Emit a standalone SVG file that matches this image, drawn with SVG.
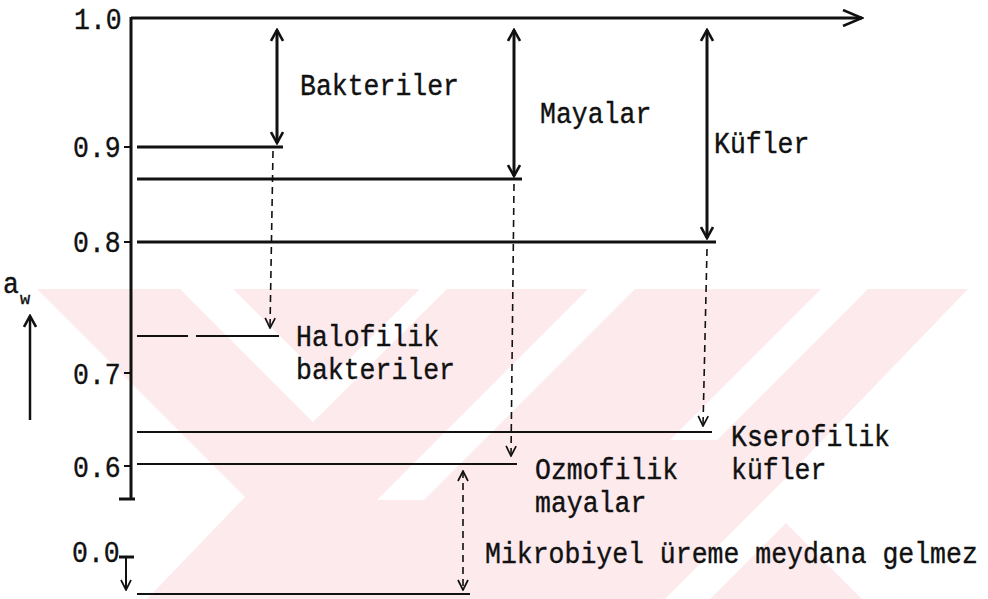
<svg xmlns="http://www.w3.org/2000/svg" width="988" height="599" viewBox="0 0 988 599">
<style>
.t{font-family:"Liberation Mono","DejaVu Sans Mono",monospace;font-size:26.5px;fill:#111;stroke:#111;stroke-width:0.35}
.ln{stroke:#111;fill:none;stroke-linecap:butt}
.thick{stroke-width:3}
.thin{stroke-width:2}
.dash{stroke-width:1.6;stroke-dasharray:7 5}
.wm{fill:#fdeaed}
.wh{fill:#fff}
</style>
<defs>
<marker id="ah" viewBox="0 0 14 14" refX="12" refY="7" markerWidth="14" markerHeight="14" markerUnits="userSpaceOnUse" orient="auto-start-reverse"><path d="M1,1 L12,7 L1,13" fill="none" stroke="#111" stroke-width="2.6"/></marker>
<marker id="ahs" viewBox="0 0 12 12" refX="11" refY="6" markerWidth="12" markerHeight="12" markerUnits="userSpaceOnUse" orient="auto-start-reverse"><path d="M1,1 L11,6 L1,11" fill="none" stroke="#111" stroke-width="1.7"/></marker>
<marker id="ahx" viewBox="0 0 22 18" refX="20" refY="9" markerWidth="22" markerHeight="18" markerUnits="userSpaceOnUse" orient="auto"><path d="M1,1 L20,9 L1,17" fill="none" stroke="#111" stroke-width="2.6"/></marker>
</defs>
<rect width="988" height="599" fill="#fff"/>
<g id="watermark">
<rect class="wm" x="0" y="289" width="988" height="310"/>
<polygon class="wh" points="0,289 37,289 245,497 147,599 0,599"/>
<polygon class="wh" points="180,289 313,422 447,289 420,289 326,382 233,289"/>
<polygon class="wh" points="588,289 635,289 424,500 377,500"/>
<polygon class="wh" points="821,289 868,289 717,440 670,440"/>
<polygon class="wh" points="968,289 988,289 988,599 907,599 786,478"/>
<polygon class="wh" points="786,478 907,599 862,599 786,523 710,599 665,599"/>
</g>
<g id="axes">
<path class="ln thick" d="M131,17 L131,500"/>
<path class="ln thick" d="M119,499 L135,499"/>
<path class="ln thick" d="M131,18 L862,18" marker-end="url(#ahx)"/>
<path class="ln thin" d="M124,147 L131,147 M124,242 L131,242 M124,373 L131,373 M124,466 L131,466"/>
<path class="ln thick" d="M119,557 L134,557"/>
<path class="ln thin" d="M126,557 L126,590" marker-end="url(#ahs)"/>
<path class="ln" stroke-width="2.5" d="M30,420 L30,316" marker-end="url(#ah)"/>
</g>
<g id="levels">
<path class="ln thick" d="M137,147 L283,147"/>
<path class="ln thick" d="M137,179 L522,179"/>
<path class="ln thick" d="M137,242 L716,242"/>
<path class="ln" stroke-width="1.8" d="M137,336 L188,336 M196,336 L279,336"/>
<path class="ln thin" d="M137,432 L712,432"/>
<path class="ln" stroke-width="2.2" d="M137,464 L517,464"/>
<path class="ln thin" d="M137,594 L470,594"/>
</g>
<g id="connectors">
<path class="ln thick" d="M277,30 L277,143" marker-start="url(#ah)" marker-end="url(#ah)"/>
<path class="ln thick" d="M514,30 L514,176" marker-start="url(#ah)" marker-end="url(#ah)"/>
<path class="ln thick" d="M707,30 L707,238" marker-start="url(#ah)" marker-end="url(#ah)"/>
<path class="ln dash" d="M273,151 L270,328" marker-end="url(#ahs)"/>
<path class="ln dash" d="M514,184 L511,456" marker-end="url(#ahs)"/>
<path class="ln dash" d="M707,249 L703,426" marker-end="url(#ahs)"/>
<path class="ln dash" d="M463,471 L463,590" marker-start="url(#ahs)" marker-end="url(#ahs)"/>
</g>
<g id="axis-labels">
<text class="t" transform="translate(74,29) scale(1,1.12)">1.0</text>
<text class="t" transform="translate(73,157) scale(1,1.12)">0.9</text>
<text class="t" transform="translate(73,252) scale(1,1.12)">0.8</text>
<text class="t" transform="translate(73,384) scale(1,1.12)">0.7</text>
<text class="t" transform="translate(73,477) scale(1,1.12)">0.6</text>
<text class="t" transform="translate(72,562) scale(1,1.12)">0.0</text>
<text class="t" transform="translate(3,293) scale(1,1.12)">a</text>
<text class="t" transform="translate(20,304)" style="font-size:17px">w</text>
</g>
<g id="node-bakteriler"><text class="t" transform="translate(300,95) scale(1,1.12)">Bakteriler</text></g>
<g id="node-mayalar"><text class="t" transform="translate(540,123) scale(1,1.12)">Mayalar</text></g>
<g id="node-kufler"><text class="t" transform="translate(714,153) scale(1,1.12)">Küfler</text></g>
<g id="node-halofilik"><text class="t" transform="translate(296,346) scale(1,1.12)">Halofilik</text><text class="t" transform="translate(296,379) scale(1,1.12)">bakteriler</text></g>
<g id="node-kserofilik"><text class="t" transform="translate(731,446) scale(1,1.12)">Kserofilik</text><text class="t" transform="translate(731,479) scale(1,1.12)">küfler</text></g>
<g id="node-ozmofilik"><text class="t" transform="translate(535,479) scale(1,1.12)">Ozmofilik</text><text class="t" transform="translate(535,512) scale(1,1.12)">mayalar</text></g>
<g id="node-mikrobiyel"><text class="t" transform="translate(485,563) scale(1,1.12)">Mikrobiyel üreme meydana gelmez</text></g>
</svg>
